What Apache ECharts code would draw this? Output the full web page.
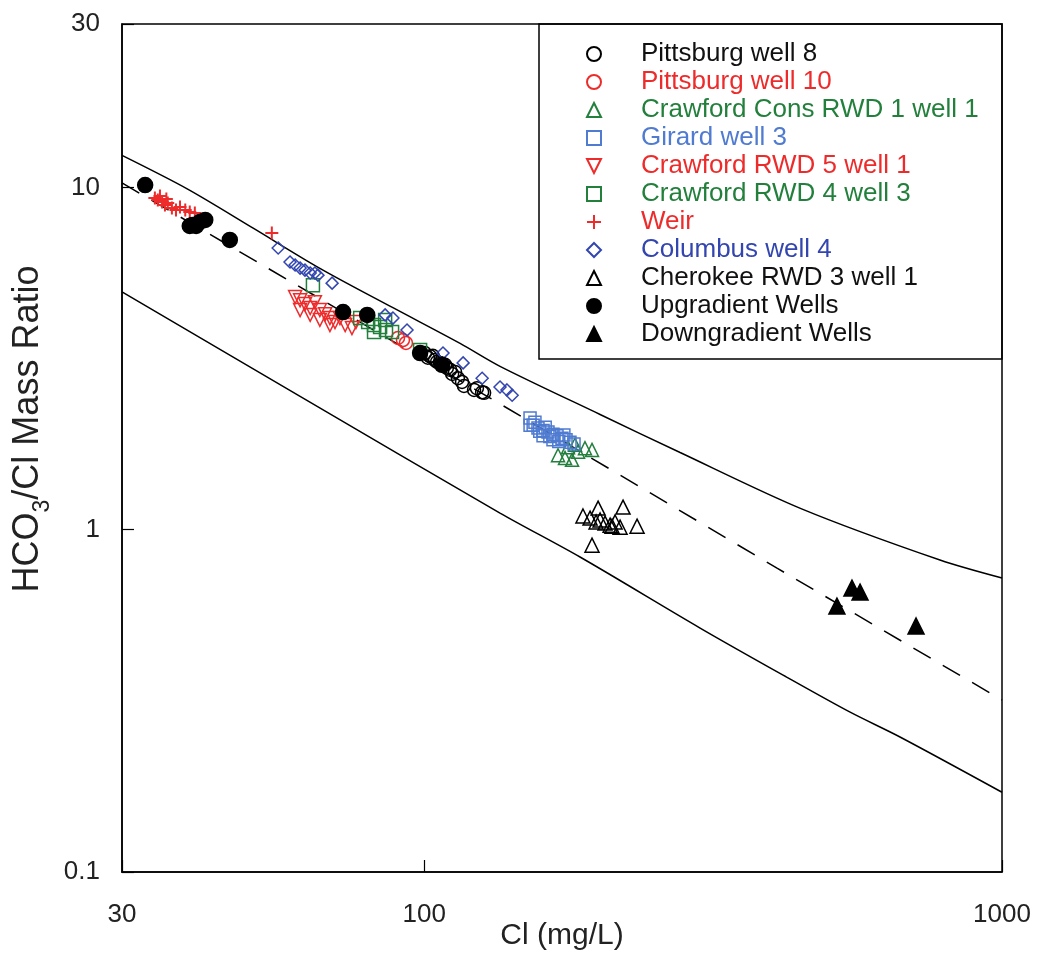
<!DOCTYPE html>
<html><head><meta charset="utf-8">
<script src="https://cdn.jsdelivr.net/npm/echarts@6/dist/echarts.min.js"></script>
<style>html,body{margin:0;padding:0;background:#fff}#c{width:1037px;height:956px}</style>
</head><body><div id="c"></div><script>
// ---- data (Cl mg/L, HCO3/Cl mass ratio) ----
const pittsburg8 = [[100.3,3.28],[102.4,3.21],[104.4,3.13],[106.5,3.07],[108.7,3.03],[110.9,2.93],[113.1,2.89],[114.4,2.77],[116.3,2.70],[117.2,2.63],[122.0,2.56],[123.4,2.59],[126.0,2.52],[127.0,2.51],[109.5,2.97],[105.3,3.09],[101.5,3.18],[103.5,3.22],[107.5,3.02],[111.8,2.85]];
const pittsburg10 = [[90.1,3.63],[91.9,3.58],[93.0,3.51]];
const crawfordCons = [[170.5,1.65],[175.3,1.62],[180.3,1.60],[184.6,1.69],[189.8,1.73],[195.2,1.71],[182.4,1.77],[177.4,1.74]];
const girard3 = [[152.5,2.12],[154.4,2.02],[157.4,1.98],[160.6,1.95],[163.8,1.93],[167.1,1.90],[169.8,1.88],[173.2,1.85],[176.0,1.83],[178.8,1.80],[181.7,1.78],[152.5,2.02],[160.6,1.88],[167.1,1.83],[155.5,2.06],[158.5,1.94],[162.0,1.99],[165.0,1.87],[171.0,1.81],[174.5,1.89]];
const crawfordRwd5 = [[59.8,4.78],[61.0,4.68],[62.2,4.56],[63.5,4.44],[64.7,4.62],[66.0,4.38],[67.4,4.26],[68.7,4.15],[70.1,4.04],[71.5,4.15],[73.0,3.96],[75.0,3.88],[76.2,4.04],[61.0,4.38],[63.5,4.24],[66.0,4.10],[68.7,3.96]];
const crawfordRwd4 = [[64.2,5.18],[77.5,4.15],[80.0,4.04],[81.9,3.96],[83.9,3.91],[85.9,3.83],[88.0,3.78],[81.9,3.78],[98.4,3.35],[85.6,4.10]];
const weir = [[34.2,9.31],[34.6,9.18],[35.2,9.06],[35.6,8.88],[36.0,9.00],[36.6,8.70],[37.2,8.59],[37.8,8.76],[38.6,8.59],[39.3,8.47],[40.1,8.42],[34.9,9.43],[35.8,9.24],[54.5,7.35]];
const columbus4 = [[55.9,6.65],[58.6,6.05],[59.8,5.93],[61.0,5.81],[62.2,5.73],[63.5,5.62],[64.7,5.62],[65.5,5.54],[69.3,5.25],[85.6,4.24],[88.3,4.15],[93.4,3.83],[107.8,3.28],[116.8,3.07],[126.0,2.77],[135.3,2.61],[139.1,2.56],[142.0,2.47]];
const cherokee3 = [[188.3,1.096],[193.7,1.081],[198.4,1.053],[201.6,1.067],[205.6,1.045],[209.8,1.031],[214.0,1.053],[218.3,1.017],[200.0,1.156],[220.9,1.164],[233.6,1.024],[195.2,0.901],[211.4,1.024]];
const upgradient = [[32.9,10.15],[39.7,7.76],[40.3,7.71],[40.9,7.92],[41.8,8.03],[39.3,7.71],[46.1,7.02],[72.4,4.32],[79.7,4.24],[98.4,3.28],[107.4,3.03]];
const downgradient = [[518,0.598],[550,0.675],[568,0.657],[710,0.523]];
// reference curves
const upperLine = [[30,12.4],[38.9,9.9],[50.6,7.6],[66.0,5.8],[88.3,4.45],[115.4,3.5],[135.3,3.0],[201.6,2.17],[277.3,1.68],[450,1.15],[781,0.815],[1000,0.722]];
const lowerLine = [[30,4.95],[61,2.45],[135.3,1.118],[186.1,0.832],[300.3,0.516],[418,0.376],[546,0.293],[666,0.248],[1000,0.171]];
const dashedLine = [[30,10.3],[135.3,2.33],[408,0.772],[1000,0.318]];
const xTickLabels = ['30','100','1000'];
const yTickLabels = ['0.1','1','10','30'];

const FONT = "'Liberation Sans', Arial, Helvetica, sans-serif";
const RED = '#ee2b2b', GREEN = '#23803c', LBLUE = '#4f7bd0', DBLUE = '#3346b0';
const HOLLOW = 'rgba(0,0,0,0)';

const scatterDefs = [
  {name:'Pittsburg well 8', data:pittsburg8, symbol:'circle', size:13, fill:HOLLOW, stroke:'#000', text:'#111'},
  {name:'Pittsburg well 10', data:pittsburg10, symbol:'circle', size:13, fill:HOLLOW, stroke:RED, text:RED},
  {name:'Crawford Cons RWD 1 well 1', data:crawfordCons, symbol:'triangle', size:13, fill:HOLLOW, stroke:GREEN, text:GREEN},
  {name:'Girard well 3', data:girard3, symbol:'rect', size:12, fill:HOLLOW, stroke:LBLUE, text:LBLUE},
  {name:'Crawford RWD 5 well 1', data:crawfordRwd5, symbol:'path://M0,0L10,0L5,10Z', size:13, fill:HOLLOW, stroke:RED, text:RED},
  {name:'Crawford RWD 4 well 3', data:crawfordRwd4, symbol:'rect', size:13, fill:HOLLOW, stroke:GREEN, text:GREEN},
  {name:'Weir', data:weir, symbol:'path://M5,0L5,10M0,5L10,5', size:13, fill:HOLLOW, stroke:RED, text:RED, bw:2},
  {name:'Columbus well 4', data:columbus4, symbol:'diamond', size:12, fill:HOLLOW, stroke:DBLUE, text:DBLUE},
  {name:'Cherokee RWD 3 well 1', data:cherokee3, symbol:'triangle', size:14, fill:HOLLOW, stroke:'#000', text:'#111'},
  {name:'Upgradient Wells', data:upgradient, symbol:'circle', size:15, fill:'#000', stroke:'#000', text:'#111'},
  {name:'Downgradient Wells', data:downgradient, symbol:'triangle', size:16, fill:'#000', stroke:'#000', text:'#111'}
];

const lineSeries = [
  {type:'line', data:upperLine, symbol:'none', silent:true, smooth:0.3, lineStyle:{color:'#000', width:1.5}, z:1},
  {type:'line', data:lowerLine, symbol:'none', silent:true, smooth:0.3, lineStyle:{color:'#000', width:1.5}, z:1},
  {type:'line', data:dashedLine, symbol:'none', silent:true, lineStyle:{color:'#000', width:1.5, type:[20,14]}, z:1}
];

const scatterSeries = scatterDefs.map(d => ({
  type:'scatter', name:d.name, data:d.data, symbol:d.symbol, symbolSize:d.size,
  itemStyle:{color:d.fill, borderColor:d.stroke, borderWidth:d.bw || 1.5, opacity:1},
  z:3
}));

const fmt = v => String(+Number(v).toPrecision(4));

const chart = echarts.init(document.getElementById('c'), null, {renderer:'canvas'});
chart.setOption({
  backgroundColor:'#fff',
  animation:false,
  grid:{left:122, right:35, top:24, bottom:84, containLabel:false, outerBoundsMode:'none',
        show:true, borderColor:'#000', borderWidth:1.5, backgroundColor:'rgba(0,0,0,0)'},
  xAxis:{
    type:'log', logBase:10, min:30, max:1000,
    name:'Cl (mg/L)', nameLocation:'middle', nameGap:49, nameMoveOverlap:false,
    nameTextStyle:{fontFamily:FONT, fontSize:30, color:'#222'},
    axisLine:{show:true, lineStyle:{color:'#000', width:1.5}},
    axisTick:{show:true, inside:true, length:12, lineStyle:{color:'#000', width:1.2}},
    axisLabel:{fontFamily:FONT, fontSize:26, color:'#222', margin:30, formatter:fmt},
    splitLine:{show:false}, minorTick:{show:false}
  },
  yAxis:{
    type:'log', logBase:10, min:0.1, max:30,
    name:'{n|HCO}{s|3}{n|/Cl Mass Ratio}', nameLocation:'middle', nameGap:68, nameRotate:90, nameMoveOverlap:false,
    nameTextStyle:{fontFamily:FONT, fontSize:36, color:'#222', padding:[0,0,0,38],
      rich:{n:{fontFamily:FONT, fontSize:36, color:'#222', padding:[0,0,8,0], verticalAlign:'top'},
            s:{fontFamily:FONT, fontSize:23, color:'#222', verticalAlign:'bottom'}}},
    axisLine:{show:true, lineStyle:{color:'#000', width:1.5}},
    axisTick:{show:true, inside:true, length:12, lineStyle:{color:'#000', width:1.2}},
    axisLabel:{fontFamily:FONT, fontSize:26, color:'#222', margin:22, formatter:fmt},
    splitLine:{show:false}, minorTick:{show:false}
  },
  legend:{
    orient:'vertical', left:586, top:40, padding:0, itemGap:0,
    itemWidth:14, itemHeight:14, selectedMode:false,
    textStyle:{fontFamily:FONT, fontSize:26, lineHeight:28, padding:[0,0,0,35]},
    data: scatterDefs.map(d => ({name:d.name, textStyle:{color:d.text}}))
  },
  graphic:[{type:'rect', shape:{x:539, y:24, width:463, height:335}, style:{fill:'none', stroke:'#000', lineWidth:1.5}, z:0, silent:true}],
  series: lineSeries.concat(scatterSeries)
});
</script></body></html>
